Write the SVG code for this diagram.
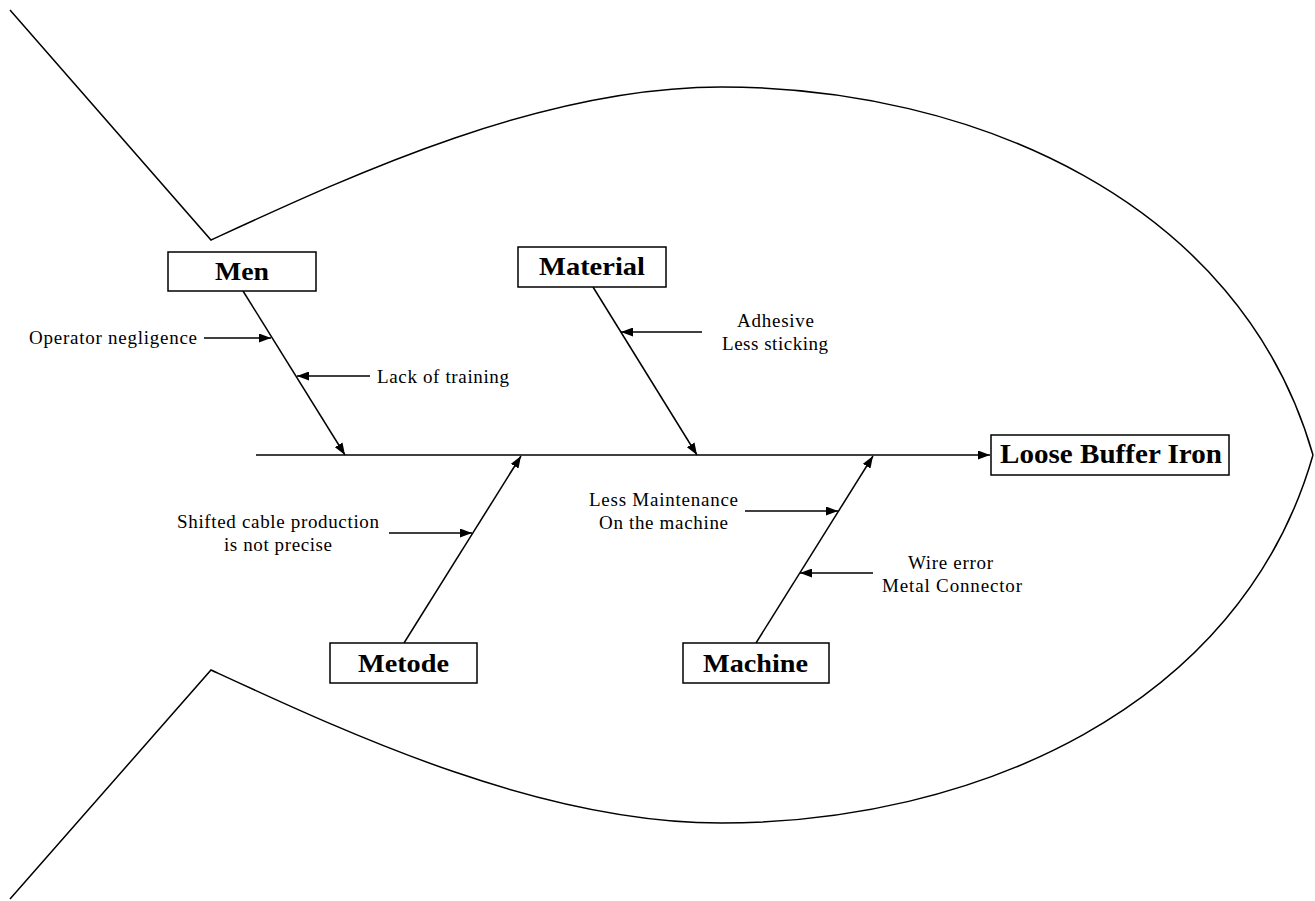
<svg xmlns="http://www.w3.org/2000/svg" width="1315" height="901" viewBox="0 0 1315 901">
<style>
.ol{fill:none;stroke:#000;stroke-width:1.5}
.bx{fill:#fff;stroke:#000;stroke-width:1.5}
.cn{fill:none;stroke:#000;stroke-width:1.5;marker-end:url(#ah)}
.lb{font-family:"Liberation Serif","Times New Roman",serif;font-size:19px;fill:#000}
.bl{font-family:"Liberation Serif","Times New Roman",serif;font-size:26px;font-weight:bold;fill:#000}
</style>
<defs>
<marker id="ah" markerUnits="userSpaceOnUse" markerWidth="12" markerHeight="9" refX="12" refY="4.5" orient="auto">
<path d="M0,0 L12,4.5 L0,9 z" fill="#000"/>
</marker>
</defs>
<rect width="1315" height="901" fill="#fff"/>
<g id="fish">
<path class="ol" d="M10,10 L211,240 C350,176 540,87 721,87 C971,87 1240,200 1313,455"/>
<path class="ol" d="M10,899 L211,670 C350,734 540,823 721,823 C971,823 1240,710 1313,455"/>
</g>
<g id="connectors">
<path class="cn" d="M256,455 L990,455"/>
<path class="cn" d="M243,291 L345,455"/>
<path class="cn" d="M593,287 L697,455"/>
<path class="cn" d="M404,643 L521,456"/>
<path class="cn" d="M756,643 L873,456"/>
<path class="cn" d="M204,338 L271,338"/>
<path class="cn" d="M370,376 L297,376"/>
<path class="cn" d="M702,332 L621,332"/>
<path class="cn" d="M389,533 L472,533"/>
<path class="cn" d="M745,511 L838,511"/>
<path class="cn" d="M873,573 L800,573"/>
</g>
<g id="men">
<rect class="bx" x="168" y="252" width="148" height="39"/>
<text class="bl" x="215" y="280" textLength="54" lengthAdjust="spacingAndGlyphs">Men</text>
</g>
<g id="material">
<rect class="bx" x="518" y="247" width="148" height="40"/>
<text class="bl" x="539" y="275" textLength="106" lengthAdjust="spacingAndGlyphs">Material</text>
</g>
<g id="metode">
<rect class="bx" x="330" y="643" width="147" height="40"/>
<text class="bl" x="358" y="672" textLength="91" lengthAdjust="spacingAndGlyphs">Metode</text>
</g>
<g id="machine">
<rect class="bx" x="683" y="643" width="146" height="40"/>
<text class="bl" x="703" y="672" textLength="105" lengthAdjust="spacingAndGlyphs">Machine</text>
</g>
<g id="effect">
<rect class="bx" x="991" y="435" width="238" height="40"/>
<text class="bl" x="1000" y="463" style="font-size:27px" textLength="222" lengthAdjust="spacingAndGlyphs">Loose Buffer Iron</text>
</g>
<g id="cause-operator">
<text class="lb" x="29" y="344" textLength="168" lengthAdjust="spacing">Operator negligence</text>
</g>
<g id="cause-training">
<text class="lb" x="377" y="383" textLength="132" lengthAdjust="spacing">Lack of training</text>
</g>
<g id="cause-adhesive">
<text class="lb" x="737" y="327" textLength="77" lengthAdjust="spacing">Adhesive</text>
<text class="lb" x="722" y="350" textLength="106" lengthAdjust="spacing">Less sticking</text>
</g>
<g id="cause-shifted">
<text class="lb" x="177" y="528" textLength="202" lengthAdjust="spacing">Shifted cable production</text>
<text class="lb" x="224" y="551" textLength="108" lengthAdjust="spacing">is not precise</text>
</g>
<g id="cause-maintenance">
<text class="lb" x="589" y="506" textLength="149" lengthAdjust="spacing">Less Maintenance</text>
<text class="lb" x="599" y="529" textLength="129" lengthAdjust="spacing">On the machine</text>
</g>
<g id="cause-wire">
<text class="lb" x="908" y="569" textLength="85" lengthAdjust="spacing">Wire error</text>
<text class="lb" x="882" y="592" textLength="140" lengthAdjust="spacing">Metal Connector</text>
</g>
</svg>
